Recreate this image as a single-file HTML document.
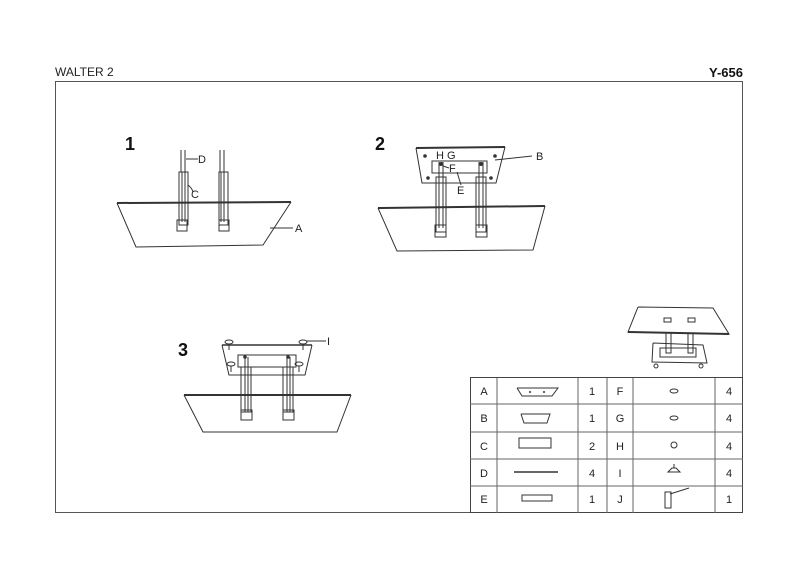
<!DOCTYPE html>
<html><head><style>
body{margin:0;background:#fff;}
svg{display:block;font-family:"Liberation Sans",sans-serif;}
</style></head><body>
<svg width="800" height="566" viewBox="0 0 800 566" xmlns="http://www.w3.org/2000/svg">
<text x="55" y="76" font-size="12" fill="#222">WALTER 2</text>
<text x="743" y="77" font-size="13" font-weight="bold" text-anchor="end" fill="#111">Y-656</text>
<rect x="55.5" y="81.5" width="687" height="431" fill="none" stroke="#555" stroke-width="1"/>

<g fill="none" stroke="#333" stroke-width="1">
<!-- Diagram 1 -->
<line x1="117" y1="203" x2="291" y2="202" stroke-width="2"/>
<polyline points="117,203 136,247 263,245 291,202"/>
<line x1="181" y1="150" x2="181" y2="172"/><line x1="185" y1="150" x2="185" y2="172"/>
<rect x="179" y="172" width="9" height="53"/>
<line x1="182" y1="172" x2="182" y2="222"/><line x1="185" y1="172" x2="185" y2="222"/>
<rect x="177" y="220" width="10" height="11"/>
<line x1="220" y1="150" x2="220" y2="172"/><line x1="224" y1="150" x2="224" y2="172"/>
<rect x="219" y="172" width="9" height="53"/>
<line x1="221" y1="172" x2="221" y2="222"/><line x1="224" y1="172" x2="224" y2="222"/>
<rect x="219" y="220" width="10" height="11"/>
<line x1="186" y1="159" x2="198" y2="159"/>
<path d="M188,185 Q192,188 193,192"/>
<line x1="270" y1="228" x2="293" y2="228"/>

<!-- Diagram 2 -->
<line x1="378" y1="208" x2="545" y2="206" stroke-width="2"/>
<polyline points="378,208 397,251 533,250 545,206"/>
<line x1="416" y1="148" x2="505" y2="147" stroke-width="2"/>
<polyline points="416,148 422,183 496,183 505,147"/>
<rect x="432" y="161" width="55" height="12"/>
<rect x="436" y="177" width="10" height="55"/>
<line x1="439" y1="162" x2="439" y2="228"/><line x1="443" y1="162" x2="443" y2="228"/>
<rect x="435" y="225" width="11" height="12"/>
<rect x="476" y="177" width="10" height="55"/>
<line x1="479" y1="162" x2="479" y2="228"/><line x1="483" y1="162" x2="483" y2="228"/>
<rect x="476" y="225" width="11" height="12"/>
<line x1="495" y1="160" x2="532" y2="156"/>
<line x1="457" y1="172" x2="461" y2="185"/>
<line x1="443" y1="166" x2="449" y2="168"/>

<!-- Diagram 3 -->
<line x1="184" y1="395" x2="351" y2="395" stroke-width="2"/>
<polyline points="184,395 203,432 337,432 351,395"/>
<line x1="222" y1="345" x2="312" y2="345" stroke-width="1.5"/>
<polyline points="222,345 229,375 305,375 312,345"/>
<rect x="238" y="355" width="58" height="12"/>
<rect x="241" y="367" width="10" height="45"/>
<line x1="245" y1="357" x2="245" y2="412"/><line x1="248" y1="357" x2="248" y2="412"/>
<rect x="241" y="410" width="11" height="10"/>
<rect x="283" y="367" width="10" height="45"/>
<line x1="287" y1="357" x2="287" y2="412"/><line x1="290" y1="357" x2="290" y2="412"/>
<rect x="283" y="410" width="11" height="10"/>
<line x1="306" y1="341" x2="326" y2="341"/>

<!-- Small picture -->
<polyline points="638,307 713,308 729,334 628,332 638,307"/>
<line x1="628" y1="332" x2="729" y2="334" stroke-width="2"/>
<rect x="664" y="318" width="7" height="4"/><rect x="688" y="318" width="7" height="4"/>
<polyline points="653,343 703,345 707,363 652,362 653,343"/>
<rect x="660" y="348" width="36" height="9"/>
<rect x="666" y="333" width="5" height="20"/><rect x="688" y="333" width="5" height="20"/>
<circle cx="656" cy="366" r="2"/><circle cx="701" cy="366" r="2"/>

<!-- Table -->
<rect x="470.5" y="377.5" width="272" height="135" stroke="#444"/>
<line x1="470" y1="404" x2="743" y2="404" stroke="#666"/>
<line x1="470" y1="432" x2="743" y2="432" stroke="#666"/>
<line x1="470" y1="459" x2="743" y2="459" stroke="#666"/>
<line x1="470" y1="486" x2="743" y2="486" stroke="#666"/>
<line x1="497" y1="378" x2="497" y2="513" stroke="#666"/>
<line x1="578" y1="378" x2="578" y2="513" stroke="#666"/>
<line x1="607" y1="378" x2="607" y2="513" stroke="#666"/>
<line x1="633" y1="378" x2="633" y2="513" stroke="#666"/>
<line x1="715" y1="378" x2="715" y2="513" stroke="#666"/>
<!-- icons -->
<polyline points="517,388 558,388 552,396 522,396 517,388"/>
<polyline points="521,414 550,414 547,423 524,423 521,414"/>
<rect x="519" y="438" width="32" height="10"/>
<line x1="514" y1="472" x2="558" y2="472" stroke-width="1.5"/>
<rect x="522" y="495" width="30" height="6"/>
<ellipse cx="674" cy="391" rx="4" ry="2"/>
<ellipse cx="674" cy="418" rx="4" ry="2"/>
<circle cx="674" cy="445" r="3"/>
<path d="M668,472 L680,472 L676,468 L672,468 Z M674,468 V464"/>
<rect x="665" y="492" width="6" height="16"/>
<line x1="670" y1="494" x2="689" y2="488"/>
</g>
<g fill="#333">
<circle cx="425" cy="156" r="1.8"/><circle cx="495" cy="156" r="1.8"/>
<circle cx="428" cy="178" r="1.8"/><circle cx="491" cy="178" r="1.8"/>
<circle cx="441" cy="164" r="2"/><circle cx="481" cy="164" r="2"/>
<circle cx="245" cy="357" r="1.8"/><circle cx="288" cy="357" r="1.8"/>
<circle cx="530" cy="392" r="1"/><circle cx="544" cy="392" r="1"/>
</g>
<g fill="none" stroke="#333">
<ellipse cx="229" cy="342" rx="4" ry="2"/><line x1="229" y1="344" x2="229" y2="350"/>
<ellipse cx="303" cy="342" rx="4" ry="2"/><line x1="303" y1="344" x2="303" y2="350"/>
<ellipse cx="231" cy="364" rx="4" ry="2"/><line x1="231" y1="366" x2="231" y2="372"/>
<ellipse cx="299" cy="364" rx="4" ry="2"/><line x1="299" y1="366" x2="299" y2="372"/>
</g>

<g font-size="18" font-weight="bold" fill="#111">
<text x="125" y="150">1</text>
<text x="375" y="150">2</text>
<text x="178" y="356">3</text>
</g>
<g font-size="11" fill="#222">
<text x="198" y="163">D</text>
<text x="191" y="198">C</text>
<text x="295" y="232">A</text>
<text x="536" y="160">B</text>
<text x="436" y="159">H G</text>
<text x="449" y="172">F</text>
<text x="457" y="194">E</text>
<text x="327" y="345">I</text>
</g>
<g font-size="11" fill="#222" text-anchor="middle">
<text x="484" y="395">A</text><text x="484" y="422">B</text><text x="484" y="450">C</text><text x="484" y="477">D</text><text x="484" y="503">E</text>
<text x="592" y="395">1</text><text x="592" y="422">1</text><text x="592" y="450">2</text><text x="592" y="477">4</text><text x="592" y="503">1</text>
<text x="620" y="395">F</text><text x="620" y="422">G</text><text x="620" y="450">H</text><text x="620" y="477">I</text><text x="620" y="503">J</text>
<text x="729" y="395">4</text><text x="729" y="422">4</text><text x="729" y="450">4</text><text x="729" y="477">4</text><text x="729" y="503">1</text>
</g>
</svg>
</body></html>
